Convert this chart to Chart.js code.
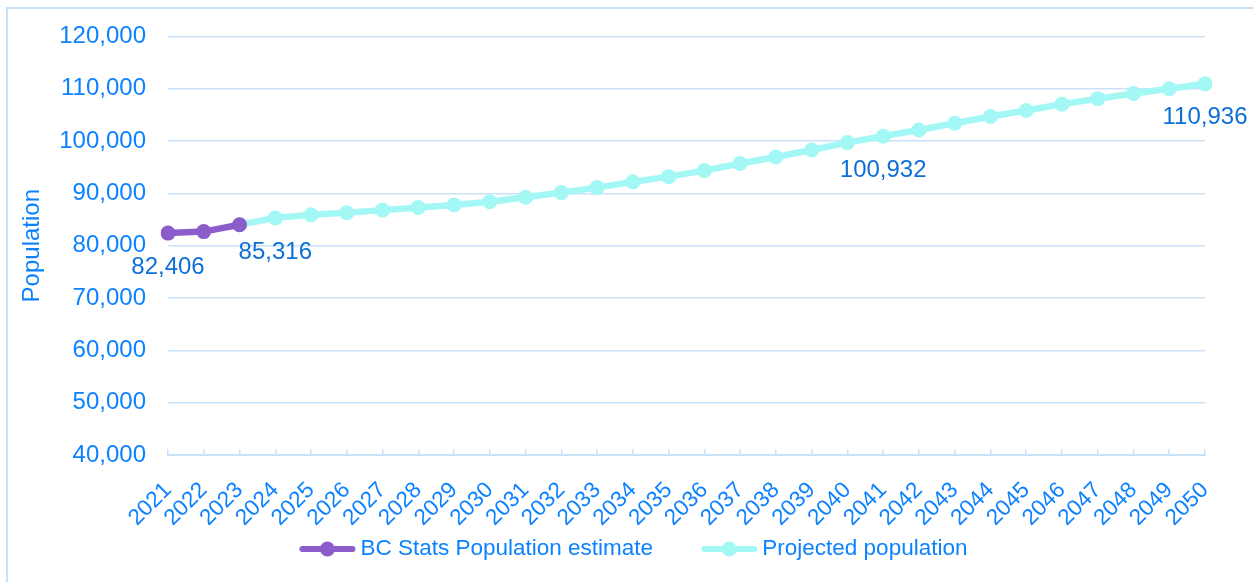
<!DOCTYPE html>
<html>
<head>
<meta charset="utf-8">
<script src="https://cdn.jsdelivr.net/npm/chart.js@4.4.1/dist/chart.umd.min.js"></script>
<style>
  html, body { margin: 0; padding: 0; background: #fff; overflow: hidden; }
  #frame { position: absolute; left: 6px; top: 7px; width: 1260px; height: 600px;
           border-left: 2px solid #C6E0FA; border-top: 2px solid #C6E0FA; }
  #wrap { position: absolute; left: 0; top: 0; width: 1253px; height: 582px; }
</style>
</head>
<body>
<div id="frame"></div>
<div id="wrap"><canvas id="c"></canvas></div>
<script>
const years = ["2021","2022","2023","2024","2025","2026","2027","2028","2029","2030",
  "2031","2032","2033","2034","2035","2036","2037","2038","2039","2040",
  "2041","2042","2043","2044","2045","2046","2047","2048","2049","2050"];
const estimateValues = [82406, 82700, 84000];
const projectedValues = [null, null, 84000, 85316, 85900, 86300, 86800, 87300, 87800, 88400,
  89250, 90150, 91100, 92200, 93200, 94350, 95700, 96950, 98300, 99700,
  100932, 102100, 103400, 104700, 105850, 107050, 108100, 109100, 110000, 110936];
const estimateLabel = "BC Stats Population estimate";
const projectedLabel = "Projected population";
const labelledEstimate = [0];
const labelledProjected = [3, 20, 29];
const yTitle = "Population";

const PURPLE = '#8A5DCB';
const CYAN = '#A3F8F6';
const TICK_BLUE = '#0D82FF';
const LABEL_BLUE = '#0E6FD6';
const GRID = '#C9E1F9';
const FONT = '"Liberation Sans", Arial, sans-serif';

// Legend icon: line with a dot, drawn to the right part of a wide legend box
function legendIcon(color) {
  const cv = document.createElement('canvas');
  cv.width = 110; cv.height = 18;
  const g = cv.getContext('2d');
  g.strokeStyle = color; g.lineWidth = 6; g.lineCap = 'round';
  g.beginPath(); g.moveTo(56.25, 9); g.lineTo(106.25, 9); g.stroke();
  g.fillStyle = color;
  g.beginPath(); g.arc(81.25, 9, 7.5, 0, Math.PI * 2); g.fill();
  return cv;
}

const dataLabelPlugin = {
  id: 'dataLabelPlugin',
  afterDatasetsDraw(chart) {
    const ctx = chart.ctx;
    ctx.save();
    ctx.font = '24px ' + FONT;
    ctx.fillStyle = LABEL_BLUE;
    ctx.textAlign = 'center';
    ctx.textBaseline = 'middle';
    const sets = [[0, labelledEstimate], [1, labelledProjected]];
    sets.forEach(([di, idxs]) => {
      const meta = chart.getDatasetMeta(di);
      const data = chart.data.datasets[di].data;
      idxs.forEach(i => {
        const el = meta.data[i];
        if (!el) return;
        ctx.fillText(data[i].toLocaleString('en-US'), el.x, el.y + 34);
      });
    });
    ctx.restore();
  }
};

new Chart(document.getElementById('c'), {
  type: 'line',
  data: {
    labels: years,
    datasets: [
      {
        label: estimateLabel,
        data: estimateValues,
        borderColor: PURPLE,
        backgroundColor: PURPLE,
        borderWidth: 6.5,
        pointRadius: 7.5,
        pointBackgroundColor: PURPLE,
        pointBorderWidth: 0,
        tension: 0,
        order: 0
      },
      {
        label: projectedLabel,
        data: projectedValues,
        borderColor: CYAN,
        backgroundColor: CYAN,
        borderWidth: 6.5,
        pointRadius: 7.5,
        pointBackgroundColor: CYAN,
        pointBorderWidth: 0,
        tension: 0,
        order: 1
      }
    ]
  },
  options: {
    responsive: true,
    maintainAspectRatio: false,
    animation: false,
    events: [],
    layout: { padding: { left: 0, right: 32.4, top: 28, bottom: 11.75 } },
    scales: {
      x: {
        offset: false,
        grid: { display: true, drawOnChartArea: false, drawTicks: true, tickLength: -6,
                color: GRID, lineWidth: 1.5 },
        border: { display: true, color: GRID, width: 2 },
        ticks: { color: TICK_BLUE, font: { family: FONT, size: 22.5 }, maxRotation: 45, minRotation: 45,
                 padding: 28, autoSkip: false },
        afterFit(scale) { scale.height = 80.75; }
      },
      y: {
        min: 40000, max: 120000,
        ticks: { stepSize: 10000, color: TICK_BLUE, font: { family: FONT, size: 24 }, padding: 22,
                 callback: v => v.toLocaleString('en-US') },
        grid: { color: GRID, lineWidth: 1.5, drawTicks: false },
        border: { display: false },
        title: { display: true, text: yTitle, color: TICK_BLUE, font: { family: FONT, size: 24 },
                 padding: { top: 17.6, bottom: 0 } },
        afterFit(scale) { scale.width = 168; }
      },
      yRight: {
        position: 'right',
        display: true,
        grid: { display: false, drawOnChartArea: false },
        border: { display: false },
        ticks: { display: false },
        afterFit(scale) { scale.width = 15.6; }
      }
    },
    plugins: {
      tooltip: { enabled: false },
      legend: {
        position: 'bottom',
        labels: {
          usePointStyle: true,
          pointStyleWidth: 96,
          padding: 2,
          color: TICK_BLUE,
          font: { family: FONT, size: 22.5 },
          generateLabels(chart) {
            return chart.data.datasets.map((ds, i) => ({
              text: ds.label,
              fillStyle: ds.borderColor,
              strokeStyle: ds.borderColor,
              fontColor: TICK_BLUE,
              pointStyle: legendIcon(ds.borderColor),
              lineWidth: 0,
              hidden: false,
              datasetIndex: i
            }));
          }
        }
      }
    }
  },
  plugins: [dataLabelPlugin]
});
</script>
</body>
</html>
